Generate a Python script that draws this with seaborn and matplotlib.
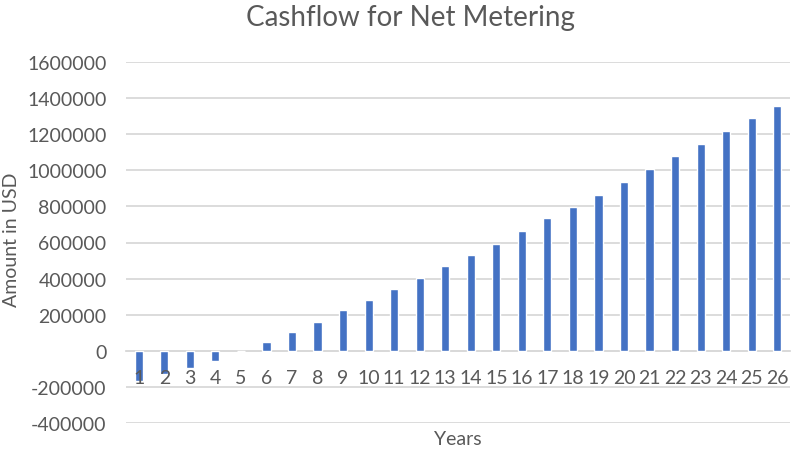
import numpy as np
import pandas as pd
import seaborn as sns
import matplotlib.pyplot as plt

# values
years = list(range(1, 27))
cashflow = [-165000, -130000, -94000, -56000, 0, 49000, 104000, 161000, 224000, 281000,
            343000, 406000, 468000, 532000, 594000, 665000, 733000, 796000, 865000, 937000,
            1005000, 1078000, 1148000, 1218000, 1289000, 1359000]
y_ticks = [-400000, -200000, 0, 200000, 400000, 600000, 800000, 1000000, 1200000, 1400000, 1600000]

df = pd.DataFrame({'Years': years, 'Amount': cashflow})

sns.set_style('white')
plt.rcParams['font.family'] = ['Lato', 'DejaVu Sans']
text_color = '#595959'

fig = plt.figure(figsize=(7.92, 4.52), dpi=100)
ax = fig.add_axes([126 / 792, (452 - 424) / 452, (790 - 126) / 792, (424 - 63) / 452])

sns.barplot(data=df, x='Years', y='Amount', color='#4472C4', width=0.32,
            saturation=1, ax=ax, zorder=3)

ax.set_ylim(-400000, 1600000)
ax.set_xlim(-0.5, 25.5)
ax.set_yticks(y_ticks)
ax.set_yticklabels([str(v) for v in y_ticks])
ax.yaxis.grid(True, color='#D9D9D9', linewidth=1.3)
ax.set_axisbelow(True)
# year labels sit on top of the negative bars, like in the original
ax.xaxis.set_zorder(5)

for side in ['top', 'right', 'left']:
    ax.spines[side].set_visible(False)
ax.spines['bottom'].set_position(('data', 0))
ax.spines['bottom'].set_color('#D9D9D9')
ax.spines['bottom'].set_linewidth(1.3)
ax.spines['bottom'].set_zorder(1)

ax.tick_params(axis='both', length=0, labelsize=14, labelcolor=text_color)
ax.tick_params(axis='x', pad=13)
ax.tick_params(axis='y', pad=14)

ax.set_xlabel('')
ax.set_ylabel('')
fig.text(458 / 792, 1 - 440 / 452, 'Years', ha='center', va='center', fontsize=14, color=text_color)
fig.text(12 / 792, 1 - 240 / 452, 'Amount in USD', ha='center', va='center', rotation=90,
         fontsize=14, color=text_color)
fig.text(410 / 792, 1 - 18 / 452, 'Cashflow for Net Metering', ha='center', va='center',
         fontsize=20, color=text_color)

plt.savefig('out.png', dpi=100)
plt.close()
